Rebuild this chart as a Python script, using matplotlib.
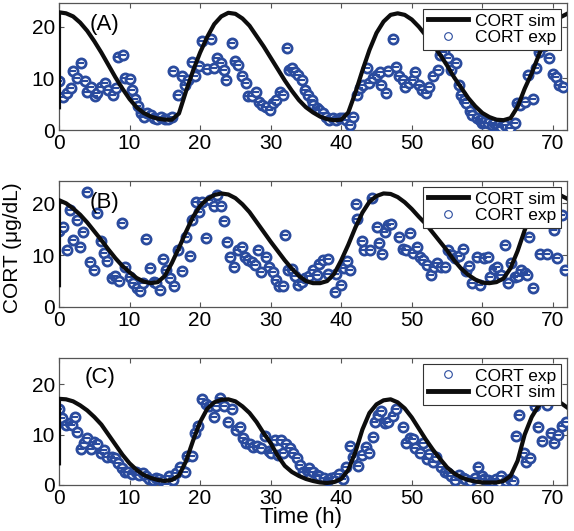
import matplotlib
matplotlib.use("Agg")
import matplotlib.pyplot as plt
from matplotlib.lines import Line2D
import numpy as np

plt.rcParams['font.family'] = ['Liberation Sans', 'DejaVu Sans']

# ---------------- data ----------------
hours = list(range(0, 73))
sim_start = [4.4, 4.2, 4.3]  # value at t=0 before the jump

sim_A = [22.8, 22.6, 22.0, 20.8, 19.2, 17.2, 15.0, 12.6, 10.2, 8.0, 6.0, 4.4, 3.3, 2.6, 2.2, 2.0,
         2.0, 3.2, 7.5, 11.5, 15.0, 18.0, 20.5, 22.0, 22.7, 22.5, 21.6, 20.2, 18.2, 16.2, 14.0,
         11.8, 9.6, 7.6, 5.8, 4.4, 3.4, 2.6, 2.1, 1.9, 2.0, 3.4, 7.2, 11.5, 15.5, 18.8, 21.0,
         22.3, 22.6, 22.3, 21.4, 20.0, 18.3, 16.6, 14.6, 12.5, 10.2, 8.2, 6.2, 4.6, 3.3, 2.5,
         2.0, 1.9, 2.3, 4.5, 8.0, 11.0, 14.5, 18.0, 20.3, 21.8, 22.5]
sim_B = [20.6, 20.0, 19.0, 17.8, 16.3, 14.6, 12.9, 11.1, 9.4, 7.9, 6.7, 5.6, 4.9, 4.6, 4.8, 6.0,
         8.5, 11.4, 14.5, 17.4, 19.5, 20.8, 21.6, 21.9, 21.7, 21.0, 19.8, 18.3, 16.4, 14.5, 12.6,
         10.8, 9.0, 7.4, 6.0, 5.0, 4.6, 4.6, 5.0, 6.4, 9.0, 12.0, 15.3, 18.2, 20.3, 21.4, 21.9,
         21.8, 21.2, 20.2, 18.9, 17.4, 16.0, 14.3, 12.6, 10.9, 9.0, 7.4, 6.2, 5.3, 4.7, 4.6,
         4.8, 5.5, 7.5, 10.8, 14.8, 18.2, 20.6, 21.8, 22.0, 21.6, 20.9]
sim_C = [17.1, 17.0, 16.6, 15.8, 14.8, 13.5, 12.0, 10.0, 8.0, 6.0, 4.3, 3.0, 2.0, 1.4, 1.0, 0.8,
         1.0, 1.9, 4.7, 8.8, 12.5, 15.1, 16.4, 16.9, 17.0, 16.6, 15.6, 14.3, 12.5, 10.3, 8.3,
         5.8, 3.8, 2.6, 1.8, 1.2, 0.8, 0.5, 0.4, 0.6, 1.2, 3.0, 6.5, 11.0, 14.3, 16.0, 16.8,
         17.0, 16.4, 15.2, 13.4, 11.2, 9.0, 7.0, 5.2, 3.5, 2.3, 1.5, 1.0, 0.7, 0.5, 0.5,
         0.5, 0.8, 1.8, 4.8, 10.0, 13.5, 15.8, 16.8, 17.0, 16.4, 15.4]

t_A = [0, 0.5, 1.1, 1.65, 2.0, 2.6, 3.1, 3.7, 4.0, 4.6, 5.1, 5.4, 6.0, 6.5, 7.0, 7.6, 8.1, 8.4, 9.0,
       9.3, 10.0, 10.3, 10.8, 11.2, 11.6, 12.0, 12.5, 13.0, 13.5, 13.9, 14.5, 15.0, 15.5, 16.0,
       16.2, 16.8, 17.4, 17.8, 18.3, 18.8, 19.3, 19.9, 20.3, 21.0, 21.5, 21.9, 22.4, 22.9, 23.4,
       23.7, 24.5, 24.9, 25.4, 25.9, 26.5, 26.8, 27.3, 27.9, 28.4, 28.8, 29.4, 29.9, 30.4, 30.8,
       31.3, 31.8, 32.3, 32.6, 33.0, 33.4, 33.9, 34.4, 34.8, 35.3, 35.8, 36.0, 36.5, 36.9, 37.4,
       37.9, 38.3, 38.8, 39.3, 39.8, 40.3, 40.7, 41.2, 41.7, 42.2, 42.6, 43.1, 43.7, 44.0, 44.5,
       45.0, 45.5, 45.7, 46.3, 46.7, 47.3, 47.7, 48.2, 48.8, 49.1, 49.6, 50.2, 50.5, 51.0, 51.5,
       52.0, 52.5, 53.0, 53.7, 54.0, 54.5, 55.1, 55.6, 56.2, 56.7, 57.0, 57.4, 57.7, 58.2, 58.6,
       59.2, 59.6, 59.9, 60.3, 60.8, 61.3, 61.7, 62.2, 62.7, 63.2, 63.9, 64.6, 64.9, 65.4, 66.0,
       66.5, 67.2, 67.6, 68.1, 68.8, 69.5, 70.0, 70.5, 70.9, 71.5]
exp_A = [9.4, 6.3, 7.2, 8.1, 11.5, 10.0, 12.9, 9.5, 7.4, 8.3, 6.5, 7.2, 8.3, 9.1, 7.8, 6.8, 8.1,
         14.2, 14.6, 10.0, 9.9, 7.8, 6.1, 4.7, 3.2, 2.6, 3.2, 2.9, 2.3, 2.1, 2.5, 2.1, 2.1, 2.5,
         11.5, 6.8, 10.4, 8.7, 9.7, 13.1, 10.5, 12.4, 17.3, 11.8, 17.6, 12.0, 13.9, 12.9, 11.7,
         9.7, 16.8, 13.3, 12.6, 10.4, 9.1, 6.5, 6.5, 7.4, 5.5, 4.9, 4.5, 3.9, 5.2, 5.8, 7.4, 6.8,
         15.9, 11.7, 12.0, 11.3, 10.7, 9.7, 7.8, 6.8, 5.8, 4.9, 4.2, 3.9, 3.2, 2.6, 1.9, 2.3, 1.9,
         2.3, 2.3, 1.9, 1.0, 2.5, 6.8, 8.1, 8.7, 12.0, 9.2, 10.0, 10.7, 11.3, 8.7, 7.1, 11.5, 17.6,
         12.3, 10.4, 9.7, 8.4, 9.1, 9.7, 11.3, 8.7, 7.8, 7.1, 8.4, 10.4, 11.7, 14.6, 15.2, 13.9,
         11.7, 12.9, 8.7, 6.8, 5.8, 5.2, 3.6, 2.9, 2.3, 1.9, 1.3, 1.6, 1.3, 1.0, 1.3, 1.0, 0.6,
         1.0, 0.3, 1.3, 5.2, 4.9, 5.5, 10.7, 6.1, 12.0, 15.2, 16.2, 13.9, 10.9, 10.2, 8.7, 8.3]

t_B = [0, 0.5, 1.1, 1.6, 2.0, 2.5, 3.0, 3.4, 4.0, 4.4, 4.9, 5.4, 5.9, 6.4, 6.8, 7.5, 7.9, 8.5, 8.9,
       9.4, 10.1, 10.5, 11.0, 11.5, 11.9, 12.3, 12.9, 13.4, 13.8, 14.3, 14.8, 15.2, 15.8, 16.3,
       16.9, 17.4, 18.0, 18.5, 18.9, 19.4, 19.9, 20.3, 20.9, 21.4, 21.9, 22.4, 22.9, 23.4, 23.8,
       24.3, 24.8, 25.3, 25.9, 26.3, 26.8, 27.3, 27.8, 28.2, 28.7, 29.3, 29.8, 30.3, 30.7, 31.2,
       31.7, 32.1, 32.5, 33.0, 33.4, 33.9, 34.4, 34.8, 35.5, 36.0, 36.5, 36.9, 37.4, 38.1, 38.1,
       39.1, 39.2, 40.0, 40.4, 40.8, 41.2, 42.1, 42.3, 43.0, 43.2, 44.1, 44.4, 45.1, 45.3, 45.8,
       46.2, 46.7, 47.1, 48.2, 48.7, 49.2, 49.7, 50.2, 50.7, 51.1, 51.6, 52.1, 52.7, 53.1, 53.6,
       54.2, 54.7, 55.2, 55.7, 56.1, 56.7, 57.2, 57.7, 58.1, 58.6, 59.2, 59.6, 60.2, 60.8, 61.1,
       61.6, 62.1, 62.6, 63.2, 63.6, 64.0, 64.6, 65.1, 65.5, 66.0, 66.3, 66.6, 67.2, 68.2, 69.1,
       70.1, 70.6, 71.3, 71.7]
exp_B = [14.6, 15.4, 11.0, 18.7, 12.9, 16.7, 11.5, 14.4, 22.1, 8.6, 7.1, 18.2, 12.8, 10.4, 8.8,
         5.6, 6.0, 5.1, 16.2, 7.7, 5.8, 4.7, 3.7, 3.0, 4.6, 13.1, 7.5, 4.9, 4.6, 3.3, 9.2, 7.1,
         5.6, 4.1, 11.0, 6.9, 13.5, 9.9, 16.8, 20.3, 18.4, 20.3, 13.3, 20.6, 19.4, 21.6, 19.4,
         16.5, 12.6, 9.6, 7.8, 11.0, 11.5, 9.6, 9.1, 8.6, 8.1, 11.0, 6.7, 9.6, 7.8, 6.7, 5.3,
         4.1, 4.1, 13.9, 7.2, 7.3, 6.0, 4.3, 4.9, 5.6, 5.9, 7.1, 6.2, 8.3, 9.1, 9.2, 6.4, 2.8,
         6.4, 4.3, 7.5, 8.8, 7.2, 19.9, 16.9, 12.8, 10.9, 10.9, 21.0, 15.4, 12.4, 10.3, 14.4,
         15.8, 16.0, 13.5, 11.2, 11.0, 14.2, 10.5, 11.5, 9.7, 9.1, 8.1, 6.2, 7.8, 8.5, 7.7, 7.7,
         10.9, 10.1, 9.4, 9.9, 11.2, 6.9, 7.9, 4.7, 9.7, 4.3, 9.4, 9.7, 5.8, 7.3, 7.7, 6.2, 12.0,
         4.7, 8.5, 5.8, 6.0, 7.1, 6.5, 6.2, 13.5, 3.7, 10.3, 10.3, 14.9, 9.4, 17.8, 7.1]

t_C = [0, 0.4, 1.0, 1.5, 1.9, 2.3, 2.6, 3.1, 3.5, 4.0, 4.5, 5.0, 5.4, 5.9, 6.4, 6.8, 7.5, 7.9, 8.4,
       8.9, 9.3, 9.8, 10.3, 10.9, 11.4, 11.9, 12.3, 12.8, 13.3, 13.7, 14.2, 14.7, 15.2, 15.6,
       16.1, 16.6, 17.1, 17.8, 18.2, 18.8, 19.3, 19.7, 20.3, 20.8, 21.3, 21.9, 22.3, 22.8, 23.4,
       24.0, 24.5, 25.1, 25.6, 26.1, 26.5, 27.1, 27.5, 28.1, 28.6, 29.2, 29.7, 30.1, 30.6, 31.1,
       31.5, 31.8, 32.2, 32.7, 33.2, 33.7, 34.1, 34.6, 35.1, 35.5, 36.0, 36.5, 36.9, 37.5, 38.1,
       38.6, 39.1, 39.7, 40.3, 40.7, 41.3, 41.7, 42.4, 42.9, 43.5, 44.0, 44.5, 44.8, 45.2, 45.7,
       46.2, 46.7, 47.4, 47.8, 48.7, 49.2, 49.7, 50.2, 50.5, 51.1, 51.6, 52.1, 52.5, 53.0, 53.5,
       54.1, 54.7, 55.2, 55.6, 56.1, 56.7, 57.2, 57.6, 58.2, 58.9, 59.4, 59.9, 60.3, 60.8, 61.4,
       61.9, 62.4, 62.7, 63.3, 63.9, 64.4, 64.8, 65.2, 65.9, 66.2, 66.8, 67.4, 67.9, 68.4, 69.1,
       69.8, 70.2, 70.7, 71.3, 71.8]
exp_C = [15.0, 13.2, 11.9, 12.3, 11.9, 13.4, 10.6, 7.1, 8.3, 9.3, 7.1, 8.6, 8.1, 6.3, 7.0, 5.6,
         5.5, 5.3, 4.4, 3.3, 2.5, 2.6, 2.2, 2.6, 2.0, 2.3, 1.8, 1.1, 1.0, 1.3, 1.1, 0.7, 0.2, 1.7,
         1.0, 2.3, 3.6, 2.6, 5.8, 5.8, 10.3, 11.7, 17.0, 16.1, 15.7, 13.4, 15.7, 17.2, 15.7, 12.6,
         15.0, 10.9, 11.5, 9.3, 8.4, 8.1, 7.5, 7.7, 7.3, 9.7, 6.8, 6.3, 8.9, 6.0, 8.9, 6.4, 8.1,
         7.3, 6.3, 5.3, 4.0, 2.5, 3.0, 3.3, 2.5, 2.0, 1.7, 1.3, 1.0, 1.3, 1.5, 2.2, 1.1, 3.6, 7.7,
         5.6, 3.8, 6.0, 7.5, 6.4, 9.6, 12.6, 13.9, 14.6, 12.4, 12.6, 13.6, 15.0, 11.5, 8.4, 9.3,
         9.1, 7.3, 6.3, 8.4, 5.1, 6.2, 4.6, 5.6, 3.6, 2.6, 2.3, 1.7, 1.0, 2.0, 1.3, 1.1, 0.7, 1.3,
         3.6, 1.8, 1.1, 0.9, 0.7, 1.1, 0.5, 1.8, 0.7, 1.1, 0.7, 9.7, 13.9, 6.3, 4.6, 5.3, 15.7,
         11.5, 8.8, 15.9, 10.3, 8.4, 9.9, 11.7, 12.6]

panel_labels = ['(A)', '(B)', '(C)']
xticks = [0, 10, 20, 30, 40, 50, 60, 70]
yticks = [0, 10, 20]

# ---------------- layout ----------------
W, H = 574, 531
fig = plt.figure(figsize=(W / 100, H / 100), dpi=100)

def ax_rect(top_px, bot_px, left_px=59, right_px=567):
    return [left_px / W, 1 - bot_px / H, (right_px - left_px) / W, (bot_px - top_px) / H]

rects = [ax_rect(3, 130), ax_rect(181, 307), ax_rect(358, 485)]
ylims = [24.6, 24.3, 25.2]
label_pos = [(6.5, 20.4), (6.5, 20.2), (5.8, 21.3)]

blue = '#2a4b9e'
spine_col = '#555555'

sims = [sim_A, sim_B, sim_C]
ts = [t_A, t_B, t_C]
exps = [exp_A, exp_B, exp_C]

for i in range(3):
    ax = fig.add_axes(rects[i])
    tt = [0] + hours
    ss = [sim_start[i]] + sims[i]
    ax.plot(ts[i], exps[i], linestyle='none', marker='o', ms=6.6, mew=2.0,
            mfc='white', mec=blue, zorder=3)
    ax.plot(ts[i], exps[i], linestyle='none', marker='_', ms=3.8, mew=1.5,
            color=blue, zorder=4)
    ax.plot(tt, ss, color='#0d0d0d', lw=3, zorder=5, solid_joinstyle='round')
    ax.set_xlim(0, 72)
    ax.set_ylim(0, ylims[i])
    ax.set_xticks(xticks)
    ax.set_yticks(yticks)
    ax.tick_params(direction='in', length=3.5, width=0.8, top=True, right=True,
                   labelsize=15, pad=3, colors=spine_col, labelcolor='black')
    for s in ax.spines.values():
        s.set_color(spine_col)
        s.set_linewidth(0.9)
    ax.text(label_pos[i][0], label_pos[i][1], panel_labels[i], fontsize=16,
            ha='center', va='center', color='black', zorder=6)

    sim_h = Line2D([], [], color='#0d0d0d', lw=3.5)
    exp_h = Line2D([], [], linestyle='none', marker='o', ms=5.5, mew=0.8,
                   mfc='white', mec=blue)
    if i < 2:
        handles, labels = [sim_h, exp_h], ['CORT sim', 'CORT exp']
    else:
        handles, labels = [exp_h, sim_h], ['CORT exp', 'CORT sim']
    leg = ax.legend(handles, labels, loc='upper right', fontsize=12.5, frameon=True,
                    fancybox=False, edgecolor='#333333', framealpha=1,
                    borderpad=0.25, labelspacing=0.1, handlelength=2.3,
                    handletextpad=0.45, borderaxespad=0.35)
    leg.get_frame().set_linewidth(0.8)
    leg.set_zorder(10)

fig.text(13 / W, 1 - 248 / H, 'CORT (\u03bcg/dL)', rotation=90, fontsize=15,
         ha='center', va='center')
fig.text(301 / W, 1 - 523 / H, 'Time (h)', fontsize=16, ha='center', va='baseline')

fig.savefig('out.png', dpi=100)
